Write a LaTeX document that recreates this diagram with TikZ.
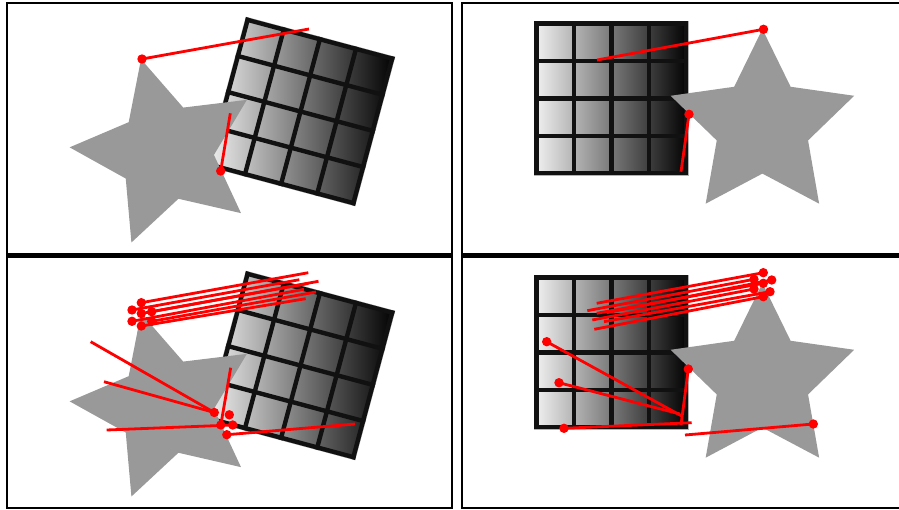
\documentclass[tikz,border=0pt]{standalone}
\definecolor{stargray}{HTML}{999999}
\definecolor{gridline}{HTML}{111111}
\definecolor{matchred}{HTML}{FF0000}
\tikzset{
  frame/.style={draw=black, line width=2.2},
  gridln/.style={draw=gridline, line width=4.4},
  matchline/.style={draw=matchred, line width=2.8},
  matchdot/.style={fill=matchred},
  gridpic/.pic={
    \shade[left color=white!95!black, right color=black] (-77,-77) rectangle (77,77);
    \draw[gray!60, line width=0.8] (-77,-77) rectangle (77,77);
    \foreach \k in {0,...,4} {
      \draw[gridln] ({-74.8+\k*37.4},-77) -- ({-74.8+\k*37.4},77);
      \draw[gridln] (-77,{-74.8+\k*37.4}) -- (77,{-74.8+\k*37.4});
    }
  },
}
\newcommand\drawstar[3]{%
  \fill[stargray, shift={(#1,#2)}] (#3:96.5)
    \foreach \i in {1,...,9} { -- ({#3+36*\i}:{ifthenelse(isodd(\i),48,96.5)}) } -- cycle;
}
\newcommand\mdot[1]{\fill[matchdot] #1 circle (4.7);}
\begin{document}
\begin{tikzpicture}[x=1pt,y=-1pt]
\path[use as bounding box] (0,0) rectangle (899,510);
\clip (0,0) rectangle (899,510);
\fill[white] (0,0) rectangle (899,510);

% ---------- images ----------
\pic[rotate=-15] at (300.5,111.5) {gridpic};
\pic at (611.3,98.4) {gridpic};
\pic[rotate=-15] at (300.5,365.5) {gridpic};
\pic at (611.3,352.4) {gridpic};

\drawstar{166}{152.4}{-105}
\drawstar{762.4}{125.6}{-90}
\drawstar{166}{406.4}{-105}
\drawstar{762.4}{379.6}{-90}

% ---------- top-left matches ----------
\draw[matchline] (142,59) -- (309,29);
\draw[matchline] (220.7,171) -- (230.3,113.3);
\mdot{(142,59)}
\mdot{(220.7,171)}

% ---------- top-right matches ----------
\draw[matchline] (597,60) -- (763.5,29.3);
\draw[matchline] (681,171.7) -- (689,114.3);
\mdot{(763.5,29.3)}
\mdot{(689,114.3)}

% ---------- bottom-left matches ----------
\draw[matchline] (141.3,302.7) -- (308.3,272.7);
\draw[matchline] (132,310) -- (299.3,279.7);
\draw[matchline] (151.7,311.7) -- (318.5,281.3);
\draw[matchline] (141.3,313.5) -- (308.3,283.5);
\draw[matchline] (132,321.3) -- (304,289.3);
\draw[matchline] (151.7,321.3) -- (316,292);
\draw[matchline] (141.3,326) -- (305.7,298.7);
\draw[matchline] (90.7,341.7) -- (214.3,412.5);
\draw[matchline] (104,381.7) -- (214.3,412.5);
\draw[matchline] (106.7,430) -- (232.7,425);
\draw[matchline] (230.7,367.7) -- (220.8,425);
\draw[matchline] (226.8,434.7) -- (355,424);
\foreach \p in {(141.3,302.7),(132,310),(151.7,311.7),(141.3,313.5),(132,321.3),(151.7,321.3),(141.3,326),
                (214.3,412.5),(229.3,414.8),(220.8,425),(232.7,425),(226.8,434.7)} {\mdot{\p}}

% ---------- bottom-right matches ----------
\draw[matchline] (596.7,303.3) -- (763.3,272.7);
\draw[matchline] (587.3,310.7) -- (754,279.3);
\draw[matchline] (606.7,312.7) -- (771.7,280);
\draw[matchline] (596.7,313.3) -- (763.3,283.3);
\draw[matchline] (592.3,320) -- (754,289);
\draw[matchline] (604,321.7) -- (770,291.7);
\draw[matchline] (594.3,329.3) -- (763.3,296.7);
\draw[matchline] (546.7,341.7) -- (681.7,416);
\draw[matchline] (559,382.7) -- (680,414);
\draw[matchline] (564,428.3) -- (691.7,422.7);
\draw[matchline] (688.3,369) -- (681,425);
\draw[matchline] (813.3,424) -- (685,435);
\foreach \p in {(763.3,272.7),(754,279.3),(771.7,280),(763.3,283.3),(754,289),(770,291.7),(763.3,296.7),
                (546.7,341.7),(559,382.7),(564,428.3),(688.3,369),(813.3,424)} {\mdot{\p}}

% ---------- frames ----------
\draw[frame] (7,3) rectangle (451.8,254.5);
\draw[frame] (7,256.8) rectangle (451.8,508.3);
\draw[frame] (462.2,3) rectangle (908,254.5);
\draw[frame] (462.2,256.8) rectangle (908,508.3);
\end{tikzpicture}
\end{document}
